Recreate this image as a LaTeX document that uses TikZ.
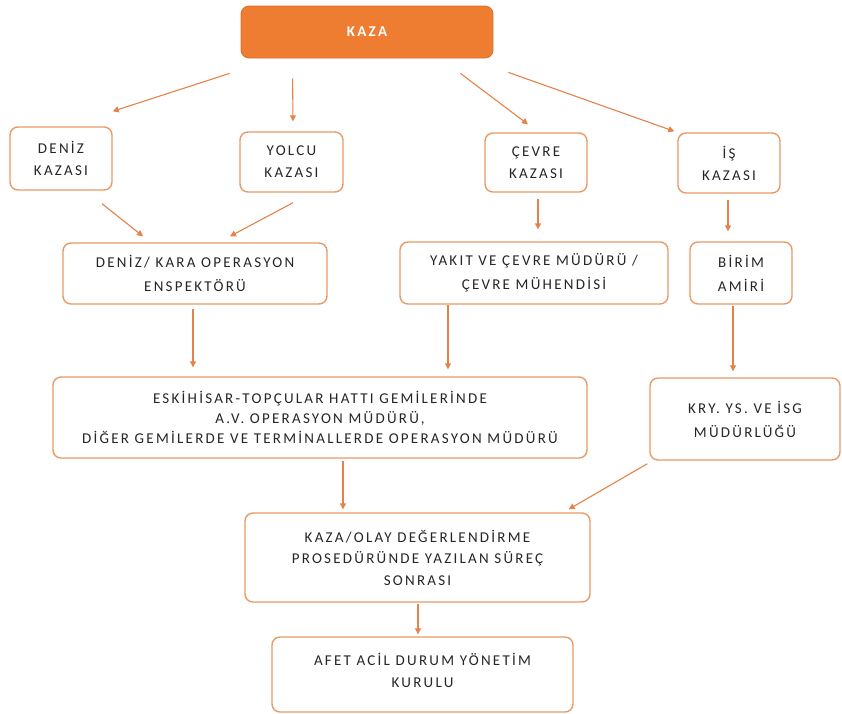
\documentclass[tikz,border=0pt]{standalone}
\usepackage{fontspec}
\setmainfont{Carlito}
\newfontfamily\lbl[LetterSpace=15]{Carlito}
\usetikzlibrary{arrows.meta}
\definecolor{kazaor}{HTML}{EE7D31}
\definecolor{boxor}{HTML}{E99A66}
\definecolor{arror}{HTML}{E4824A}
\definecolor{txt}{HTML}{262626}
\tikzset{
  box/.style={draw=boxor, line width=1.4pt, rounded corners=8pt, fill=white,
    inner sep=0pt, align=center, text=txt, font=\lbl\fontsize{15}{23}\selectfont},
  topbox/.style={fill=kazaor, draw=kazaor!90!black, line width=0.8pt, rounded corners=8pt,
    inner sep=0pt, text=white, font=\lbl\bfseries\fontsize{15}{18}\selectfont},
  arr/.style={draw=arror, line width=1.1pt, -{Triangle[length=6pt,width=6pt]}}
}
\begin{document}
\begin{tikzpicture}[x=1pt,y=-1pt]
\useasboundingbox (0,0) rectangle (842,713);
\fill[white] (0,0) rectangle (842,713);
\node[topbox, minimum width=252pt, minimum height=52pt] (kaza) at (367,32) {KAZA};
\node[box, minimum width=102pt, minimum height=63pt, font=\lbl\fontsize{15}{22}\selectfont] (deniz) at (61,158.5) {DENİZ\\KAZASI};
\node[box, minimum width=103pt, minimum height=60pt, font=\lbl\fontsize{15}{22}\selectfont] (yolcu) at (291.5,162) {YOLCU\\KAZASI};
\node[box, minimum width=102pt, minimum height=59pt, font=\lbl\fontsize{15}{22}\selectfont] (cevre) at (536,162.5) {ÇEVRE\\KAZASI};
\node[box, minimum width=102pt, minimum height=60pt, font=\lbl\fontsize{15}{22}\selectfont] (is) at (729,163) {İŞ\\KAZASI};
\node[box, minimum width=264pt, minimum height=61pt, font=\lbl\fontsize{15}{24}\selectfont] (denizkara) at (195,273.5) {DENİZ/ KARA OPERASYON\\ENSPEKTÖRÜ};
\node[box, minimum width=268pt, minimum height=62pt, font=\lbl\fontsize{15}{24}\selectfont] (yakit) at (534,273) {YAKIT VE ÇEVRE MÜDÜRÜ /\\ÇEVRE MÜHENDİSİ};
\node[box, minimum width=102pt, minimum height=62pt, font=\lbl\fontsize{15}{24}\selectfont] (birim) at (741,273) {BİRİM\\AMİRİ};
\node[box, minimum width=534pt, minimum height=81pt, font=\lbl\fontsize{15}{20}\selectfont] (eski) at (320,417.5) {ESKİHİSAR-TOPÇULAR HATTI GEMİLERİNDE\\A.V. OPERASYON MÜDÜRÜ,\\DİĞER GEMİLERDE VE TERMİNALLERDE OPERASYON MÜDÜRÜ};
\node[box, minimum width=190pt, minimum height=82pt, font=\lbl\fontsize{15}{24}\selectfont] (kry) at (745,419) {KRY. YS. VE İSG\\MÜDÜRLÜĞÜ};
\node[box, minimum width=345pt, minimum height=89pt, font=\lbl\fontsize{15}{21.5}\selectfont] (olay) at (417.5,557.5) {KAZA/OLAY DEĞERLENDİRME\\PROSEDÜRÜNDE YAZILAN SÜREÇ\\SONRASI};
\node[box, minimum width=301pt, minimum height=75pt, text depth=8pt, font=\lbl\fontsize{15}{22}\selectfont] (afet) at (422.5,674.5) {AFET ACİL DURUM YÖNETİM\\KURULU};
\draw[arr] ([shift={(-11,15)}]kaza.south west) -- ([shift={(0,-15)}]deniz.north east);
\draw[arr] ([shift={(52,20)}]kaza.south west) -- ([shift={(1.5,-10)}]yolcu.north);
\draw[arr] ([shift={(-33,15)}]kaza.south east) -- ([shift={(-8,-8)}]cevre.north);
\draw[arr] ([shift={(15,14)}]kaza.south east) -- ([shift={(-3,-1)}]is.north west);
\draw[arr] ([shift={(41,13)}]deniz.south) -- ([shift={(-52,-6)}]denizkara.north);
\draw[arr] ([shift={(1.5,10)}]yolcu.south) -- ([shift={(35,-6)}]denizkara.north);
\draw[arr] ([shift={(2,6)}]cevre.south) -- ([shift={(4,-12)}]yakit.north);
\draw[arr] ([shift={(-1,6)}]is.south) -- ([shift={(-13,-10)}]birim.north);
\draw[arr] ([shift={(-2,4)}]denizkara.south) -- ([shift={(-127,-9)}]eski.north);
\draw[arr] ([shift={(-86,0)}]yakit.south) -- ([shift={(128,-7)}]eski.north);
\draw[arr] ([shift={(-8,1)}]birim.south) -- ([shift={(-12,-6)}]kry.north);
\draw[arr] ([shift={(23,2)}]eski.south) -- ([shift={(-74.5,-3)}]olay.north);
\draw[arr] ([shift={(-2,3)}]kry.south west) -- ([shift={(-22,-3)}]olay.north east);
\draw[arr] ([shift={(0.5,1)}]olay.south) -- ([shift={(-4.5,-2)}]afet.north);
\end{tikzpicture}
\end{document}
